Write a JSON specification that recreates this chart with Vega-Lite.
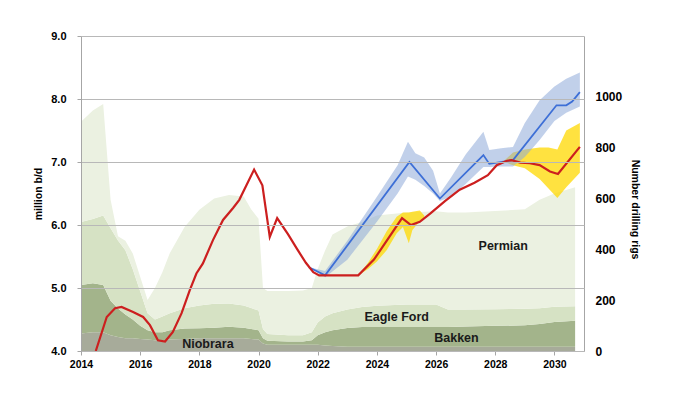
{
  "$schema": "https://vega.github.io/schema/vega-lite/v6.json",
  "width": 503,
  "height": 315,
  "autosize": "none",
  "padding": {"left": 81, "top": 36, "right": 90, "bottom": 42},
  "background": "white",
  "config": {"view": {"stroke": null}, "font": "Liberation Sans"},
  "datasets": {
    "rigs": [
      {"t":2014,"b":"Niobrara","r":69,"o":1},{"t":2014,"b":"Bakken","r":191,"o":2},{"t":2014,"b":"Eagle Ford","r":248,"o":3},{"t":2014,"b":"Permian","r":394,"o":4},
      {"t":2014.4,"b":"Niobrara","r":74,"o":1},{"t":2014.4,"b":"Bakken","r":193,"o":2},{"t":2014.4,"b":"Eagle Ford","r":253,"o":3},{"t":2014.4,"b":"Permian","r":427,"o":4},
      {"t":2014.75,"b":"Niobrara","r":74,"o":1},{"t":2014.75,"b":"Bakken","r":186,"o":2},{"t":2014.75,"b":"Eagle Ford","r":273,"o":3},{"t":2014.75,"b":"Permian","r":439,"o":4},
      {"t":2015,"b":"Niobrara","r":62,"o":1},{"t":2015,"b":"Bakken","r":136,"o":2},{"t":2015,"b":"Eagle Ford","r":285,"o":3},{"t":2015,"b":"Permian","r":112,"o":4},
      {"t":2015.25,"b":"Niobrara","r":55,"o":1},{"t":2015.25,"b":"Bakken","r":112,"o":2},{"t":2015.25,"b":"Eagle Ford","r":268,"o":3},{"t":2015.25,"b":"Permian","r":17,"o":4},
      {"t":2015.5,"b":"Niobrara","r":50,"o":1},{"t":2015.5,"b":"Bakken","r":94,"o":2},{"t":2015.5,"b":"Eagle Ford","r":253,"o":3},{"t":2015.5,"b":"Permian","r":37,"o":4},
      {"t":2015.75,"b":"Niobrara","r":50,"o":1},{"t":2015.75,"b":"Bakken","r":74,"o":2},{"t":2015.75,"b":"Eagle Ford","r":198,"o":3},{"t":2015.75,"b":"Permian","r":62,"o":4},
      {"t":2016,"b":"Niobrara","r":47,"o":1},{"t":2016,"b":"Bakken","r":52,"o":2},{"t":2016,"b":"Eagle Ford","r":136,"o":3},{"t":2016,"b":"Permian","r":57,"o":4},
      {"t":2016.25,"b":"Niobrara","r":45,"o":1},{"t":2016.25,"b":"Bakken","r":37,"o":2},{"t":2016.25,"b":"Eagle Ford","r":67,"o":3},{"t":2016.25,"b":"Permian","r":52,"o":4},
      {"t":2016.5,"b":"Niobrara","r":42,"o":1},{"t":2016.5,"b":"Bakken","r":32,"o":2},{"t":2016.5,"b":"Eagle Ford","r":50,"o":3},{"t":2016.5,"b":"Permian","r":124,"o":4},
      {"t":2016.75,"b":"Niobrara","r":42,"o":1},{"t":2016.75,"b":"Bakken","r":32,"o":2},{"t":2016.75,"b":"Eagle Ford","r":62,"o":3},{"t":2016.75,"b":"Permian","r":174,"o":4},
      {"t":2017,"b":"Niobrara","r":45,"o":1},{"t":2017,"b":"Bakken","r":37,"o":2},{"t":2017,"b":"Eagle Ford","r":67,"o":3},{"t":2017,"b":"Permian","r":236,"o":4},
      {"t":2017.5,"b":"Niobrara","r":47,"o":1},{"t":2017.5,"b":"Bakken","r":42,"o":2},{"t":2017.5,"b":"Eagle Ford","r":79,"o":3},{"t":2017.5,"b":"Permian","r":320,"o":4},
      {"t":2018,"b":"Niobrara","r":50,"o":1},{"t":2018,"b":"Bakken","r":40,"o":2},{"t":2018,"b":"Eagle Ford","r":89,"o":3},{"t":2018,"b":"Permian","r":377,"o":4},
      {"t":2018.5,"b":"Niobrara","r":50,"o":1},{"t":2018.5,"b":"Bakken","r":42,"o":2},{"t":2018.5,"b":"Eagle Ford","r":94,"o":3},{"t":2018.5,"b":"Permian","r":414,"o":4},
      {"t":2019,"b":"Niobrara","r":50,"o":1},{"t":2019,"b":"Bakken","r":45,"o":2},{"t":2019,"b":"Eagle Ford","r":92,"o":3},{"t":2019,"b":"Permian","r":427,"o":4},
      {"t":2019.5,"b":"Niobrara","r":50,"o":1},{"t":2019.5,"b":"Bakken","r":42,"o":2},{"t":2019.5,"b":"Eagle Ford","r":87,"o":3},{"t":2019.5,"b":"Permian","r":429,"o":4},
      {"t":2019.75,"b":"Niobrara","r":47,"o":1},{"t":2019.75,"b":"Bakken","r":40,"o":2},{"t":2019.75,"b":"Eagle Ford","r":82,"o":3},{"t":2019.75,"b":"Permian","r":389,"o":4},
      {"t":2020,"b":"Niobrara","r":45,"o":1},{"t":2020,"b":"Bakken","r":37,"o":2},{"t":2020,"b":"Eagle Ford","r":77,"o":3},{"t":2020,"b":"Permian","r":362,"o":4},
      {"t":2020.15,"b":"Niobrara","r":30,"o":1},{"t":2020.15,"b":"Bakken","r":20,"o":2},{"t":2020.15,"b":"Eagle Ford","r":37,"o":3},{"t":2020.15,"b":"Permian","r":161,"o":4},
      {"t":2020.3,"b":"Niobrara","r":25,"o":1},{"t":2020.3,"b":"Bakken","r":15,"o":2},{"t":2020.3,"b":"Eagle Ford","r":27,"o":3},{"t":2020.3,"b":"Permian","r":169,"o":4},
      {"t":2021,"b":"Niobrara","r":25,"o":1},{"t":2021,"b":"Bakken","r":12,"o":2},{"t":2021,"b":"Eagle Ford","r":25,"o":3},{"t":2021,"b":"Permian","r":174,"o":4},
      {"t":2021.5,"b":"Niobrara","r":25,"o":1},{"t":2021.5,"b":"Bakken","r":12,"o":2},{"t":2021.5,"b":"Eagle Ford","r":25,"o":3},{"t":2021.5,"b":"Permian","r":176,"o":4},
      {"t":2021.8,"b":"Niobrara","r":25,"o":1},{"t":2021.8,"b":"Bakken","r":17,"o":2},{"t":2021.8,"b":"Eagle Ford","r":32,"o":3},{"t":2021.8,"b":"Permian","r":174,"o":4},
      {"t":2022,"b":"Niobrara","r":25,"o":1},{"t":2022,"b":"Bakken","r":37,"o":2},{"t":2022,"b":"Eagle Ford","r":50,"o":3},{"t":2022,"b":"Permian","r":211,"o":4},
      {"t":2022.25,"b":"Niobrara","r":22,"o":1},{"t":2022.25,"b":"Bakken","r":52,"o":2},{"t":2022.25,"b":"Eagle Ford","r":62,"o":3},{"t":2022.25,"b":"Permian","r":260,"o":4},
      {"t":2022.5,"b":"Niobrara","r":20,"o":1},{"t":2022.5,"b":"Bakken","r":62,"o":2},{"t":2022.5,"b":"Eagle Ford","r":67,"o":3},{"t":2022.5,"b":"Permian","r":310,"o":4},
      {"t":2023,"b":"Niobrara","r":17,"o":1},{"t":2023,"b":"Bakken","r":74,"o":2},{"t":2023,"b":"Eagle Ford","r":72,"o":3},{"t":2023,"b":"Permian","r":327,"o":4},
      {"t":2023.5,"b":"Niobrara","r":17,"o":1},{"t":2023.5,"b":"Bakken","r":77,"o":2},{"t":2023.5,"b":"Eagle Ford","r":79,"o":3},{"t":2023.5,"b":"Permian","r":335,"o":4},
      {"t":2024,"b":"Niobrara","r":17,"o":1},{"t":2024,"b":"Bakken","r":77,"o":2},{"t":2024,"b":"Eagle Ford","r":84,"o":3},{"t":2024,"b":"Permian","r":355,"o":4},
      {"t":2025,"b":"Niobrara","r":17,"o":1},{"t":2025,"b":"Bakken","r":77,"o":2},{"t":2025,"b":"Eagle Ford","r":89,"o":3},{"t":2025,"b":"Permian","r":362,"o":4},
      {"t":2026,"b":"Niobrara","r":17,"o":1},{"t":2026,"b":"Bakken","r":77,"o":2},{"t":2026,"b":"Eagle Ford","r":89,"o":3},{"t":2026,"b":"Permian","r":367,"o":4},
      {"t":2026.4,"b":"Niobrara","r":17,"o":1},{"t":2026.4,"b":"Bakken","r":77,"o":2},{"t":2026.4,"b":"Eagle Ford","r":69,"o":3},{"t":2026.4,"b":"Permian","r":382,"o":4},
      {"t":2027,"b":"Niobrara","r":17,"o":1},{"t":2027,"b":"Bakken","r":79,"o":2},{"t":2027,"b":"Eagle Ford","r":67,"o":3},{"t":2027,"b":"Permian","r":382,"o":4},
      {"t":2028,"b":"Niobrara","r":17,"o":1},{"t":2028,"b":"Bakken","r":82,"o":2},{"t":2028,"b":"Eagle Ford","r":65,"o":3},{"t":2028,"b":"Permian","r":387,"o":4},
      {"t":2029,"b":"Niobrara","r":17,"o":1},{"t":2029,"b":"Bakken","r":84,"o":2},{"t":2029,"b":"Eagle Ford","r":65,"o":3},{"t":2029,"b":"Permian","r":392,"o":4},
      {"t":2029.5,"b":"Niobrara","r":17,"o":1},{"t":2029.5,"b":"Bakken","r":89,"o":2},{"t":2029.5,"b":"Eagle Ford","r":62,"o":3},{"t":2029.5,"b":"Permian","r":427,"o":4},
      {"t":2030,"b":"Niobrara","r":17,"o":1},{"t":2030,"b":"Bakken","r":97,"o":2},{"t":2030,"b":"Eagle Ford","r":60,"o":3},{"t":2030,"b":"Permian","r":446,"o":4},
      {"t":2030.7,"b":"Niobrara","r":17,"o":1},{"t":2030.7,"b":"Bakken","r":102,"o":2},{"t":2030.7,"b":"Eagle Ford","r":57,"o":3},{"t":2030.7,"b":"Permian","r":469,"o":4}
    ],
    "prod": [
      {"t":2014.5,"v":4.0},{"t":2014.87,"v":4.54},{"t":2015.15,"v":4.68},{"t":2015.37,"v":4.7},{"t":2015.76,"v":4.62},
      {"t":2016.1,"v":4.54},{"t":2016.33,"v":4.41},{"t":2016.6,"v":4.17},{"t":2016.84,"v":4.15},{"t":2017.1,"v":4.3},
      {"t":2017.4,"v":4.6},{"t":2017.68,"v":4.97},{"t":2017.9,"v":5.23},{"t":2018.12,"v":5.39},{"t":2018.46,"v":5.76},
      {"t":2018.8,"v":6.08},{"t":2019.14,"v":6.27},{"t":2019.35,"v":6.4},{"t":2019.85,"v":6.88},{"t":2020.13,"v":6.63},
      {"t":2020.38,"v":5.81},{"t":2020.63,"v":6.11},{"t":2021.0,"v":5.85},{"t":2021.3,"v":5.62},{"t":2021.6,"v":5.4},
      {"t":2021.85,"v":5.25},{"t":2022.05,"v":5.2},{"t":2023.37,"v":5.2},{"t":2023.9,"v":5.45},{"t":2024.85,"v":6.11},
      {"t":2025.15,"v":6.0},{"t":2025.45,"v":6.05},{"t":2025.8,"v":6.18},{"t":2026.3,"v":6.38},{"t":2026.8,"v":6.56},
      {"t":2027.3,"v":6.67},{"t":2027.75,"v":6.79},{"t":2028.05,"v":6.95},{"t":2028.4,"v":7.02},{"t":2028.55,"v":7.03},
      {"t":2028.85,"v":6.99},{"t":2029.17,"v":6.98},{"t":2029.5,"v":6.95},{"t":2029.85,"v":6.85},{"t":2030.12,"v":6.81},
      {"t":2030.86,"v":7.24}
    ],
    "fcst": [
      {"t":2021.7,"v":5.33},{"t":2022.25,"v":5.2},{"t":2025.1,"v":7.0},{"t":2026.13,"v":6.42},{"t":2027.6,"v":7.11},
      {"t":2027.8,"v":6.97},{"t":2028.6,"v":7.03},{"t":2030.07,"v":7.9},{"t":2030.4,"v":7.9},{"t":2030.6,"v":7.96},
      {"t":2030.86,"v":8.11}
    ],
    "blueband": [
      {"t":2021.7,"lo":5.33,"hi":5.33},{"t":2022.25,"lo":5.17,"hi":5.27},{"t":2023.0,"lo":5.45,"hi":5.75},
      {"t":2024.0,"lo":6.05,"hi":6.45},{"t":2024.7,"lo":6.5,"hi":6.95},{"t":2025.05,"lo":6.77,"hi":7.32},
      {"t":2025.3,"lo":6.72,"hi":7.14},{"t":2025.6,"lo":6.62,"hi":7.07},{"t":2025.9,"lo":6.5,"hi":6.86},
      {"t":2026.13,"lo":6.38,"hi":6.5},{"t":2026.5,"lo":6.45,"hi":6.75},{"t":2027.0,"lo":6.65,"hi":7.12},
      {"t":2027.6,"lo":6.92,"hi":7.48},{"t":2027.8,"lo":6.92,"hi":7.19},{"t":2028.2,"lo":6.93,"hi":7.22},
      {"t":2028.6,"lo":6.93,"hi":7.24},{"t":2029.0,"lo":7.08,"hi":7.62},{"t":2029.5,"lo":7.35,"hi":7.98},
      {"t":2030.0,"lo":7.65,"hi":8.2},{"t":2030.4,"lo":7.78,"hi":8.32},{"t":2030.86,"lo":7.88,"hi":8.42}
    ],
    "yellowband": [
      {"s":"a","t":2023.37,"lo":5.2,"hi":5.2},{"s":"a","t":2023.7,"lo":5.3,"hi":5.4},{"s":"a","t":2024.0,"lo":5.42,"hi":5.62},
      {"s":"a","t":2024.33,"lo":5.6,"hi":5.9},{"s":"a","t":2024.67,"lo":5.87,"hi":6.13},{"s":"a","t":2024.88,"lo":5.97,"hi":6.2},
      {"s":"a","t":2025.08,"lo":5.71,"hi":6.2},{"s":"a","t":2025.2,"lo":5.92,"hi":6.21},{"s":"a","t":2025.45,"lo":6.06,"hi":6.23},
      {"s":"a","t":2025.6,"lo":6.12,"hi":6.15},
      {"s":"b","t":2028.3,"lo":7.0,"hi":7.02},{"s":"b","t":2028.6,"lo":6.95,"hi":7.15},{"s":"b","t":2029.0,"lo":6.9,"hi":7.2},
      {"s":"b","t":2029.5,"lo":6.73,"hi":7.23},{"s":"b","t":2029.8,"lo":6.58,"hi":7.23},{"s":"b","t":2030.1,"lo":6.43,"hi":7.2},
      {"s":"b","t":2030.4,"lo":6.6,"hi":7.5},{"s":"b","t":2030.86,"lo":6.83,"hi":7.62}
    ],
    "labels": [
      {"txt":"Niobrara","t":2018.29,"v":4.11},
      {"txt":"Eagle Ford","t":2024.67,"v":4.535},
      {"txt":"Bakken","t":2026.69,"v":4.2},
      {"txt":"Permian","t":2028.27,"v":5.67}
    ]
  },
  "layer": [
    {
      "data": {"name": "rigs"},
      "mark": {"type": "area", "interpolate": "linear"},
      "encoding": {
        "x": {
          "field": "t", "type": "quantitative",
          "scale": {"domain": [2014, 2031], "nice": false, "zero": false},
          "axis": {
            "values": [2014, 2016, 2018, 2020, 2022, 2024, 2026, 2028, 2030],
            "format": "d", "title": null, "grid": false, "labelFlush": false,
            "domainColor": "#a6a6a6", "tickColor": "#a6a6a6", "tickSize": 4,
            "labelPadding": 4, "labelFontSize": 10.5, "labelFontWeight": "bold", "labelColor": "#000000"
          }
        },
        "y": {
          "field": "r", "type": "quantitative", "stack": "zero",
          "scale": {"domain": [0, 1240], "nice": false, "zero": true},
          "axis": {
            "orient": "right", "values": [0, 200, 400, 600, 800, 1000], "format": "d",
            "title": "Number drilling rigs", "grid": false, "ticks": false, "tickSize": 0,
            "labelPadding": 11, "domainColor": "#a6a6a6",
            "labelFontSize": 12, "labelFontWeight": "bold", "labelColor": "#000000",
            "titleFontSize": 10.5, "titleFontWeight": "bold", "titleColor": "#000000",
            "titlePadding": 8, "titleY": 173
          }
        },
        "color": {
          "field": "b", "type": "nominal",
          "scale": {"domain": ["Niobrara", "Bakken", "Eagle Ford", "Permian"], "range": ["#a7ab9a", "#a3b48b", "#d6e2c4", "#ebf1e1"]},
          "legend": null
        },
        "order": {"field": "o", "type": "quantitative"}
      }
    },
    {
      "layer": [
        {
          "data": {"name": "yellowband"},
          "mark": {"type": "area", "color": "#ffd800", "opacity": 0.75},
          "encoding": {
            "x": {"field": "t", "type": "quantitative"},
            "y": {
              "field": "lo", "type": "quantitative",
              "scale": {"domain": [4, 9], "nice": false, "zero": false},
              "axis": {
                "orient": "left", "values": [4, 4.5, 5, 5.5, 6, 6.5, 7, 7.5, 8, 8.5, 9],
                "format": ".1f", "title": "million b/d", "grid": true,
                "gridColor": "#b8b8b8", "gridWidth": 1.2,
                "domainColor": "#a6a6a6", "tickColor": "#a6a6a6", "tickSize": 4,
                "labelPadding": 11, "labelFontSize": 11, "labelFontWeight": "bold", "labelColor": "#000000",
                "titleFontSize": 10.5, "titleFontWeight": "bold", "titleColor": "#000000",
                "titlePadding": 7, "zindex": 1
              }
            },
            "y2": {"field": "hi"},
            "detail": {"field": "s", "type": "nominal"}
          }
        },
        {
          "data": {"name": "blueband"},
          "mark": {"type": "area", "color": "#8eaad8", "opacity": 0.55},
          "encoding": {
            "x": {"field": "t", "type": "quantitative"},
            "y": {"field": "lo", "type": "quantitative"},
            "y2": {"field": "hi"}
          }
        },
        {
          "data": {"name": "fcst"},
          "mark": {"type": "line", "color": "#3d6fd6", "strokeWidth": 1.8},
          "encoding": {
            "x": {"field": "t", "type": "quantitative"},
            "y": {"field": "v", "type": "quantitative"}
          }
        },
        {
          "data": {"name": "prod"},
          "mark": {"type": "line", "color": "#cc1f1f", "strokeWidth": 2.2},
          "encoding": {
            "x": {"field": "t", "type": "quantitative"},
            "y": {"field": "v", "type": "quantitative"}
          }
        },
        {
          "data": {"name": "labels"},
          "mark": {"type": "text", "font": "Liberation Sans", "fontWeight": "bold", "fontSize": 12.5, "color": "#1a1a1a", "align": "center", "baseline": "middle"},
          "encoding": {
            "x": {"field": "t", "type": "quantitative"},
            "y": {"field": "v", "type": "quantitative"},
            "text": {"field": "txt"}
          }
        }
      ]
    }
  ],
  "resolve": {"scale": {"y": "independent"}, "axis": {"y": "independent"}}
}
